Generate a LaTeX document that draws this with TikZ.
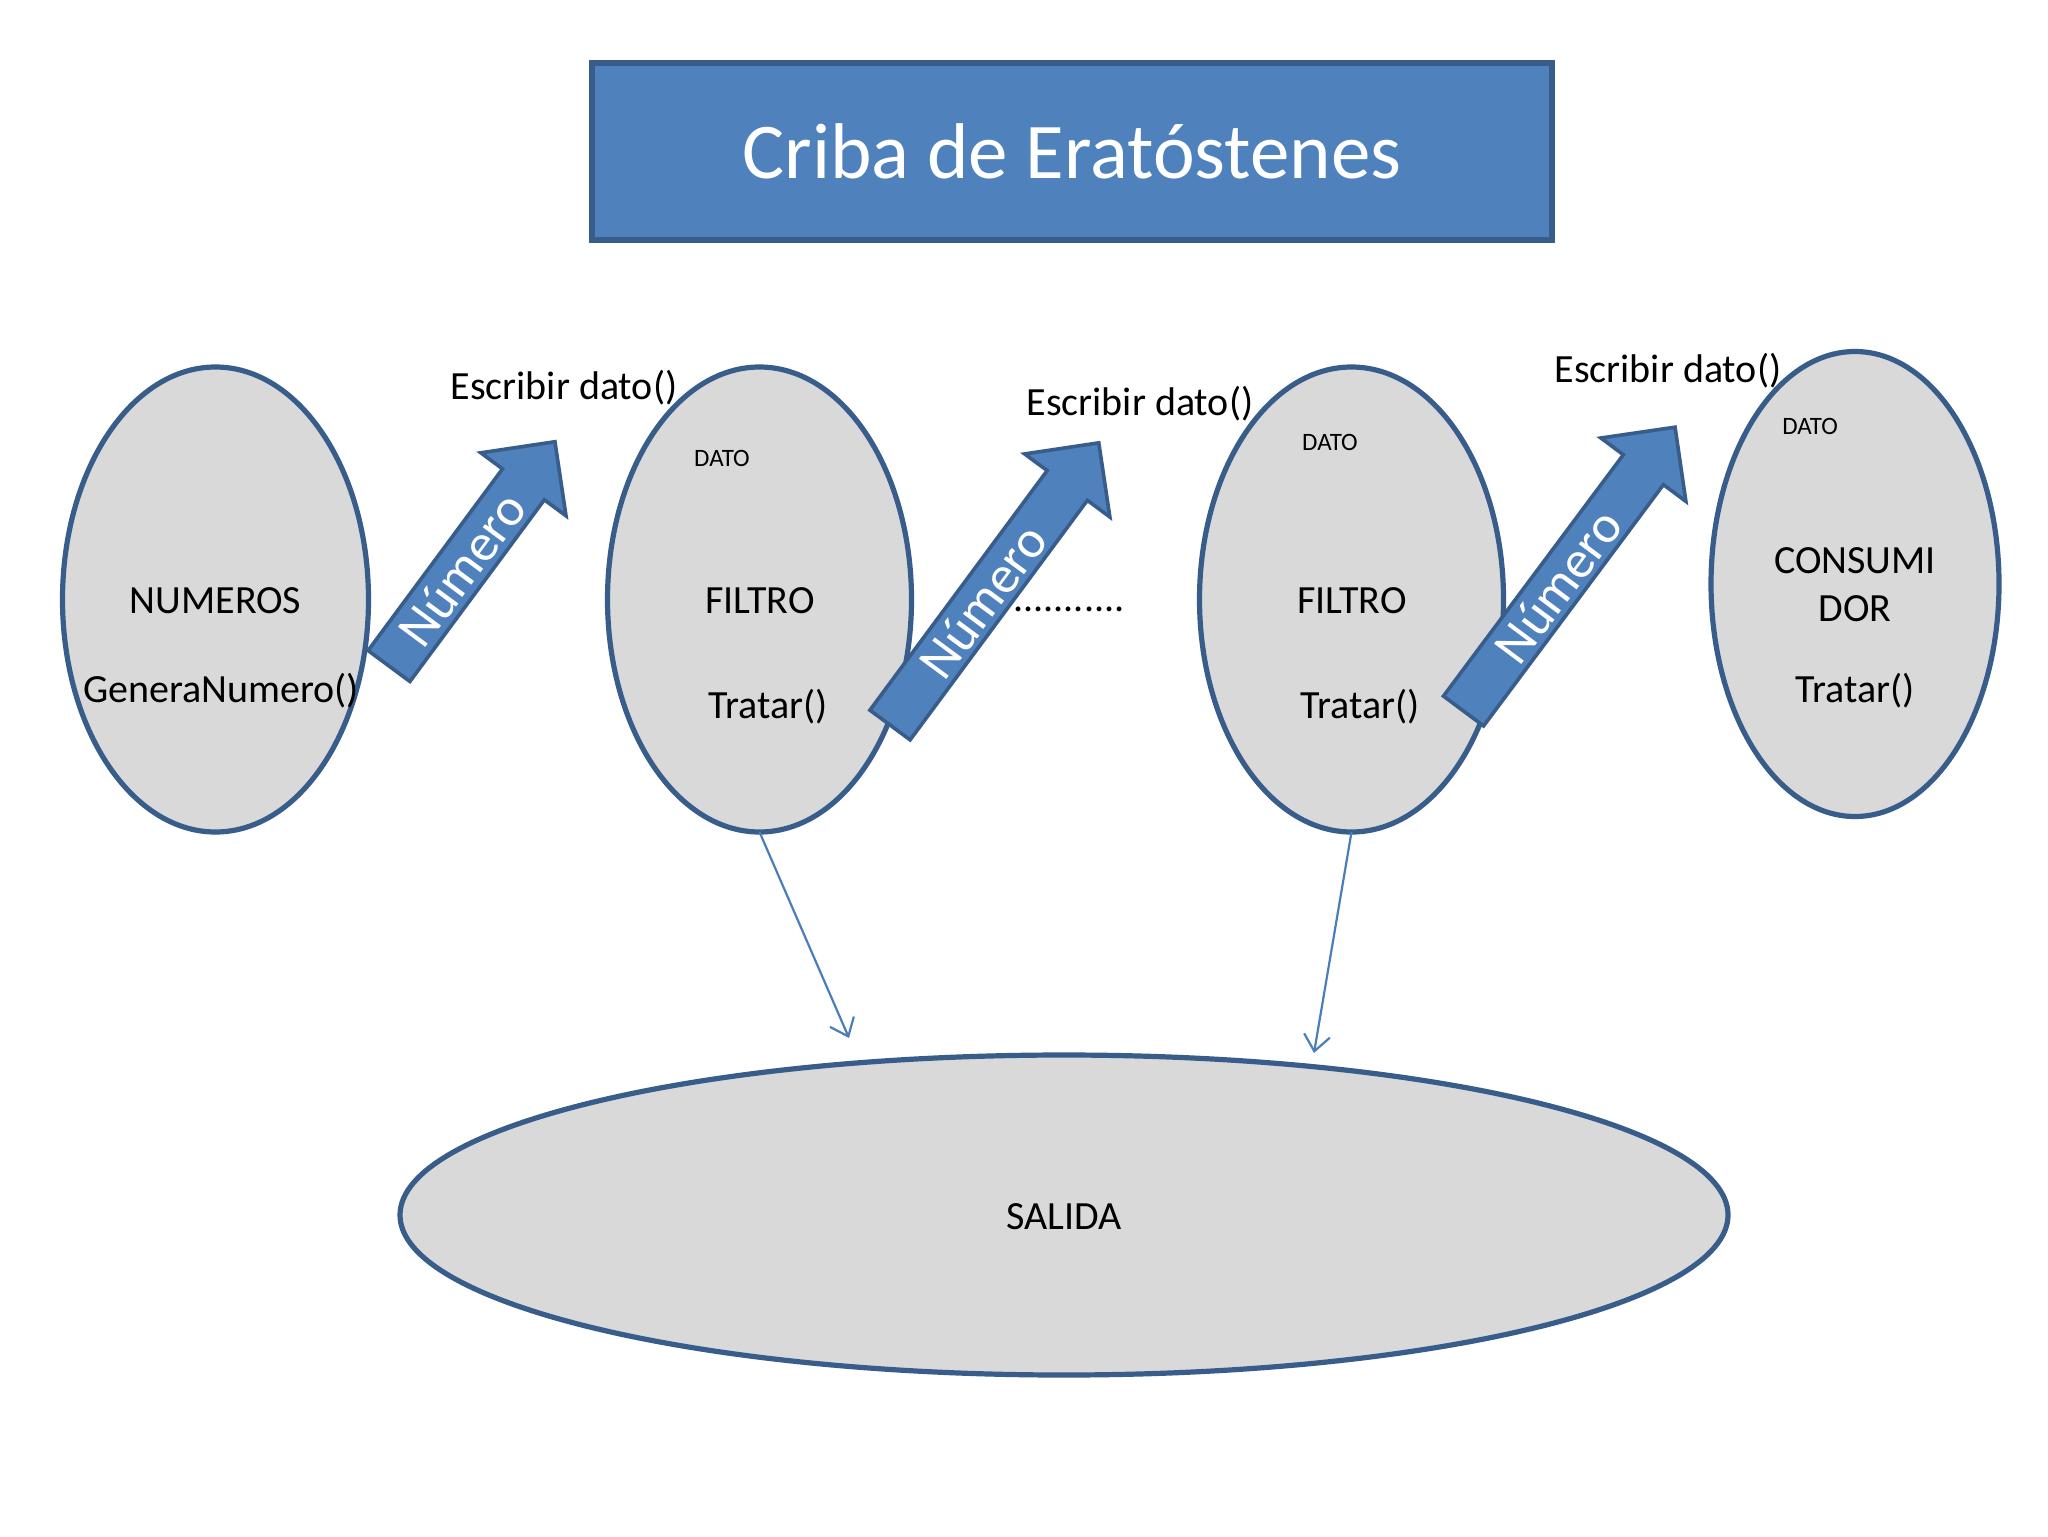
\documentclass[tikz,border=0pt]{standalone}
\usepackage{fontspec}
\setmainfont{Carlito}
\usetikzlibrary{shapes.geometric,arrows.meta}
\definecolor{bfill}{HTML}{4F81BD}
\definecolor{bline}{HTML}{385D8A}
\definecolor{efill}{HTML}{D9D9D9}
\definecolor{cline}{HTML}{4A7EBB}
\tikzset{
  oval/.style={ellipse, draw=bline, fill=efill, line width=2.6pt, inner sep=0pt, outer sep=0pt},
  lbl/.style={font=\fontsize{20}{24}\selectfont, text=black, inner sep=0pt},
  small/.style={font=\fontsize{12.5}{15}\selectfont, text=black, inner sep=0pt},
  blockarrow/.style={draw=bline, fill=bfill, line width=1.8pt, line join=miter},
  numtxt/.style={font=\fontsize{26.5}{30}\selectfont, text=white, inner sep=0pt},
  conn/.style={draw=cline, line width=1.1pt, -{Straight Barb[length=8pt,width=13pt,line width=1.1pt]}}
}
\begin{document}
\begin{tikzpicture}[x=0.5pt,y=-0.5pt]
\useasboundingbox[fill=white] (0,0) rectangle (2048,1536);
% title
\node[draw=bline, fill=bfill, line width=2.6pt, minimum width=480pt, minimum height=88.5pt,
      text=white, font=\fontsize{39.5}{44}\selectfont] (title) at (1072,151.5) {Criba de Eratóstenes};
% ellipses
\node[oval, minimum width=153pt, minimum height=232.5pt] (num) at (215.5,599.5) {};
\node[oval, minimum width=152pt, minimum height=232.5pt] (f1) at (759.5,599.5) {};
\node[oval, minimum width=152pt, minimum height=232.5pt] (f2) at (1351.5,599.5) {};
\node[oval, minimum width=144pt, minimum height=232.5pt] (cons) at (1855,584) {};
\node[oval, minimum width=664pt, minimum height=160pt] (sal) at (1064,1215) {};
% block arrows
\begin{scope}[shift={(389,666)}, rotate=53.5]
  \draw[blockarrow] (0,-26) -- (226,-26) -- (226,-53) -- (279,0) -- (226,53) -- (226,26) -- (0,26) -- cycle;
\end{scope}
\begin{scope}[shift={(890,725)}, rotate=53.5]
  \draw[blockarrow] (0,-25) -- (298,-25) -- (298,-53) -- (351,0) -- (298,53) -- (298,25) -- (0,25) -- cycle;
\end{scope}
\begin{scope}[shift={(1463.5,711)}, rotate=53.3]
  \draw[blockarrow] (0,-25) -- (301,-25) -- (301,-53) -- (354,0) -- (301,53) -- (301,25) -- (0,25) -- cycle;
\end{scope}
\node[numtxt, rotate=53.5] (n1) at (462,569) {Número};
\node[numtxt, rotate=53.5] (n2) at (983,601) {Número};
\node[numtxt, rotate=53.3] (n3) at (1558,586) {Número};
% texts
\node[lbl] (t1) at (215.5,601) {NUMEROS};
\node[lbl] (t2) at (221,691) {GeneraNumero()};
\node[small] (d1) at (722,458) {DATO};
\node[lbl] (t3) at (760,601) {FILTRO};
\node[lbl] (t4) at (768,707) {Tratar()};
\node[small] (d2) at (1330,442) {DATO};
\node[lbl] (t5) at (1352,601) {FILTRO};
\node[lbl] (t6) at (1360,707) {Tratar()};
\node[small] (d3) at (1810,426) {DATO};
\node[lbl] (t7) at (1855,561) {CONSUMI};
\node[lbl] (t8) at (1855,609) {DOR};
\node[lbl] (t9) at (1855,691) {Tratar()};
\node[lbl] (t10) at (1064,1217) {SALIDA};
\node[lbl] (e1) at (564,388) {Escribir dato()};
\node[lbl] (e2) at (1140,404) {Escribir dato()};
\node[lbl] (e3) at (1668,371) {Escribir dato()};
\node[lbl] (dots) at (1069,609) {...........};
% connectors
\coordinate (c1) at (849,1038);
\coordinate (c2) at (1314,1053);
\draw[conn] (f1.south) -- (c1);
\draw[conn] (f2.south) -- (c2);
\end{tikzpicture}
\end{document}
